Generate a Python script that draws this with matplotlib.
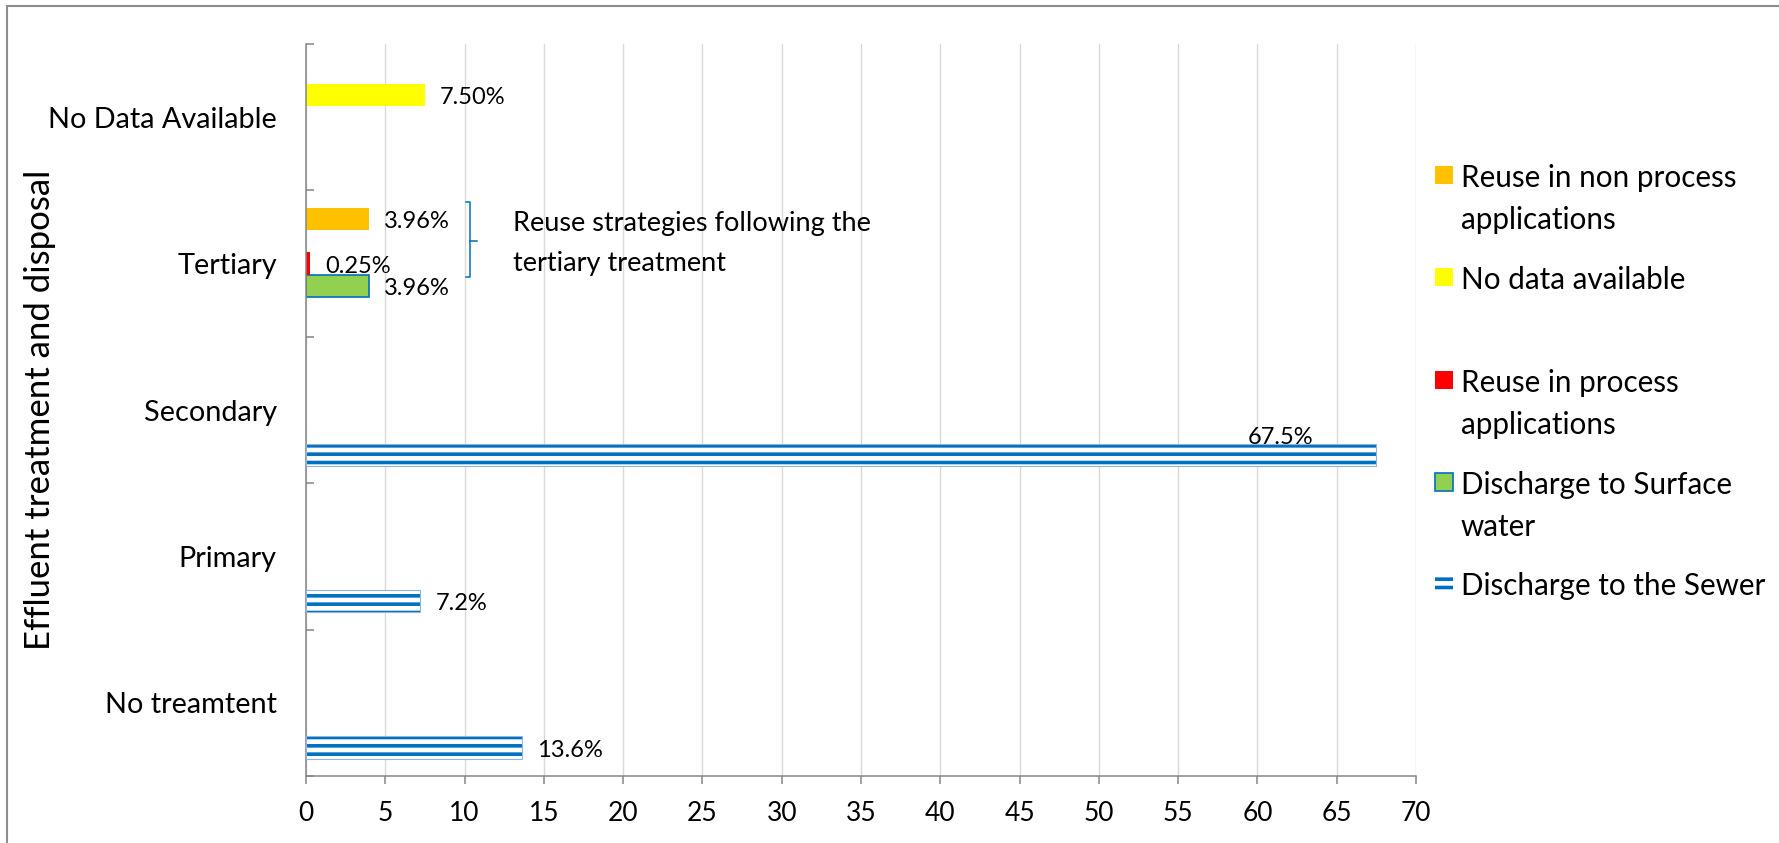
import numpy as np
import matplotlib.pyplot as plt
from matplotlib.patches import Rectangle
from matplotlib.lines import Line2D

plt.rcParams['font.family'] = ['Lato', 'DejaVu Sans']
plt.rcParams['hatch.linewidth'] = 2.6

# treatment levels, bottom to top
categories = ['No treamtent', 'Primary', 'Secondary', 'Tertiary', 'No Data Available']

# share of sites (%) per treatment level, NaN where a series has no bar
sewer = [13.6, 7.2, 67.5, np.nan, np.nan]
surface = [np.nan, np.nan, np.nan, 3.96, np.nan]
process = [np.nan, np.nan, np.nan, 0.25, np.nan]
no_data = [np.nan, np.nan, np.nan, np.nan, 7.5]
non_process = [np.nan, np.nan, np.nan, 3.96, np.nan]

x_ticks = np.arange(0, 71, 5)

BLUE = '#0070C0'
GRAY = '#868686'
W, H = 1779, 843


def fx(px):
    return px / W


def fy(py):
    return 1 - py / H


fig = plt.figure(figsize=(W / 100, H / 100), dpi=100)
ax = fig.add_axes([fx(306), fy(776), fx(1416 - 306), (776 - 44) / H])

y = np.arange(len(categories))
h = 0.153

# series drawn bottom to top inside each group
series = [
    dict(vals=sewer, off=-2, fmt='{:.1f}%', kw=dict(color='white', edgecolor=BLUE, hatch='--', linewidth=0)),
    dict(vals=surface, off=-1, fmt='{:.2f}%', kw=dict(color='#92D050', edgecolor=BLUE, linewidth=1.2)),
    dict(vals=process, off=0, fmt='{:.2f}%', kw=dict(color='#FF0000', linewidth=0)),
    dict(vals=no_data, off=1, fmt='{:.2f}%', kw=dict(color='#FFFF00', linewidth=0)),
    dict(vals=non_process, off=2, fmt='{:.2f}%', kw=dict(color='#FFC000', linewidth=0)),
]

for s in series:
    pos = y + s['off'] * h
    ax.barh(pos, s['vals'], height=h, zorder=2, **s['kw'])
    if s['off'] == -2:
        # thin outline around the striped sewer bars
        ax.barh(pos, s['vals'], height=h, fill=False, edgecolor='#8DB4E2', linewidth=0.8, zorder=3)
    for yy, v in zip(pos, s['vals']):
        if np.isnan(v):
            continue
        if v > 50:
            ax.annotate(s['fmt'].format(v), (v, yy), xytext=(-69, 12.5), textcoords='offset points',
                        ha='center', va='center', fontsize=17)
        else:
            ax.annotate(s['fmt'].format(v), (v, yy), xytext=(11, -2), textcoords='offset points',
                        ha='left', va='center', fontsize=17)

# bracket grouping the tertiary reuse bars
ax.plot([10.1, 10.35, 10.35, 10.1], [3.423, 3.423, 2.908, 2.908], color=BLUE, lw=1.1, zorder=4)
ax.plot([10.35, 10.8], [3.156, 3.156], color=BLUE, lw=1.1, zorder=4)
ax.text(13.08, 3.138, 'Reuse strategies following the\ntertiary treatment', ha='left', va='center',
        fontsize=19.5, linespacing=1.72)

ax.set_xlim(0, 70)
ax.set_ylim(-0.5, len(categories) - 0.5)
ax.set_xticks(x_ticks)
ax.set_yticks(y)
ax.set_yticklabels(categories)
ax.set_yticks(np.arange(len(categories) + 1) - 0.5, minor=True)

ax.tick_params(axis='x', direction='out', length=5.8, width=1.1, color=GRAY, labelsize=19, pad=12)
ax.tick_params(axis='y', which='major', length=0, labelsize=20.8, pad=21)
ax.tick_params(axis='y', which='minor', direction='in', length=5.8, width=1.1, color=GRAY)

ax.grid(axis='x', color='#D9D9D9', linewidth=1.0)
ax.set_axisbelow(True)
for side in ['top', 'right']:
    ax.spines[side].set_visible(False)
for side in ['left', 'bottom']:
    ax.spines[side].set_color(GRAY)
    ax.spines[side].set_linewidth(1.1)

fig.text(fx(40), fy(410), 'Effluent treatment and disposal', rotation=90,
         ha='center', va='center', fontsize=25)

# legend, top to bottom (blank slot between the two groups)
legend_rows = [
    (175, 'Reuse in non process\napplications', dict(facecolor='#FFC000', linewidth=0)),
    (277, 'No data available', dict(facecolor='#FFFF00', linewidth=0)),
    (380, 'Reuse in process\napplications', dict(facecolor='#FF0000', linewidth=0)),
    (482, 'Discharge to Surface\nwater', dict(facecolor='#92D050', edgecolor=BLUE, linewidth=1.2)),
    (583, 'Discharge to the Sewer', dict(facecolor='white', edgecolor=BLUE, hatch='--', linewidth=0)),
]
for yc, label, kw in legend_rows:
    fig.add_artist(Rectangle((fx(1435), fy(yc + 9)), fx(18), 18 / H, transform=fig.transFigure, **kw))
    fig.text(fx(1461), fy(yc - 11), label, ha='left', va='top', fontsize=21.3, linespacing=1.6)

# frame lines along the top and left edge
fig.add_artist(Line2D([fx(7), fx(7)], [0, fy(6)], transform=fig.transFigure, color='#8C8C8C', lw=1.5))
fig.add_artist(Line2D([fx(7), 1], [fy(6), fy(6)], transform=fig.transFigure, color='#8C8C8C', lw=1.5))

fig.savefig('out.png', dpi=100)
